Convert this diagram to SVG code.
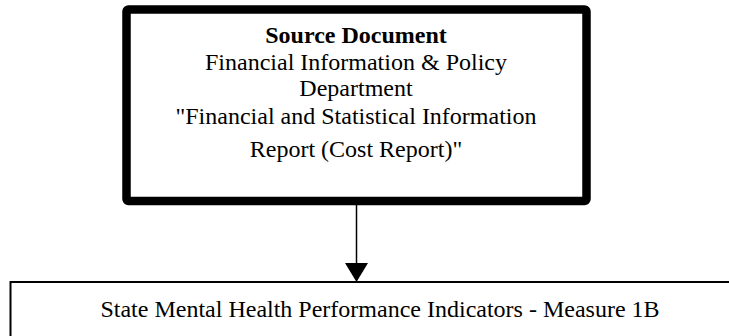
<svg xmlns="http://www.w3.org/2000/svg" width="729" height="336" viewBox="0 0 729 336">
<style>
.t{font-family:"Liberation Serif","Times New Roman",serif;font-size:24px;fill:#000;text-anchor:middle}
.b{font-weight:bold}
</style>
<rect width="729" height="336" fill="#fff"/>
<g id="connectors">
<line x1="356.5" y1="205" x2="356.5" y2="264" stroke="#000" stroke-width="1.5"/>
<path d="M345,263 L368,263 L356.5,282 Z" fill="#000"/>
</g>
<g id="source">
<rect x="126.5" y="9.5" width="460" height="191.5" rx="2" fill="none" stroke="#000" stroke-width="8.5"/>
<text class="t b" x="356" y="43">Source Document</text>
<text class="t" x="356" y="70">Financial Information &amp; Policy</text>
<text class="t" x="356" y="96">Department</text>
<text class="t" x="356" y="124">"Financial and Statistical Information</text>
<text class="t" x="356" y="157">Report (Cost Report)"</text>
</g>
<g id="measure">
<rect x="10.5" y="282" width="740" height="80" fill="none" stroke="#000" stroke-width="2"/>
<text class="t" x="380" y="317">State Mental Health Performance Indicators - Measure 1B</text>
</g>
</svg>
